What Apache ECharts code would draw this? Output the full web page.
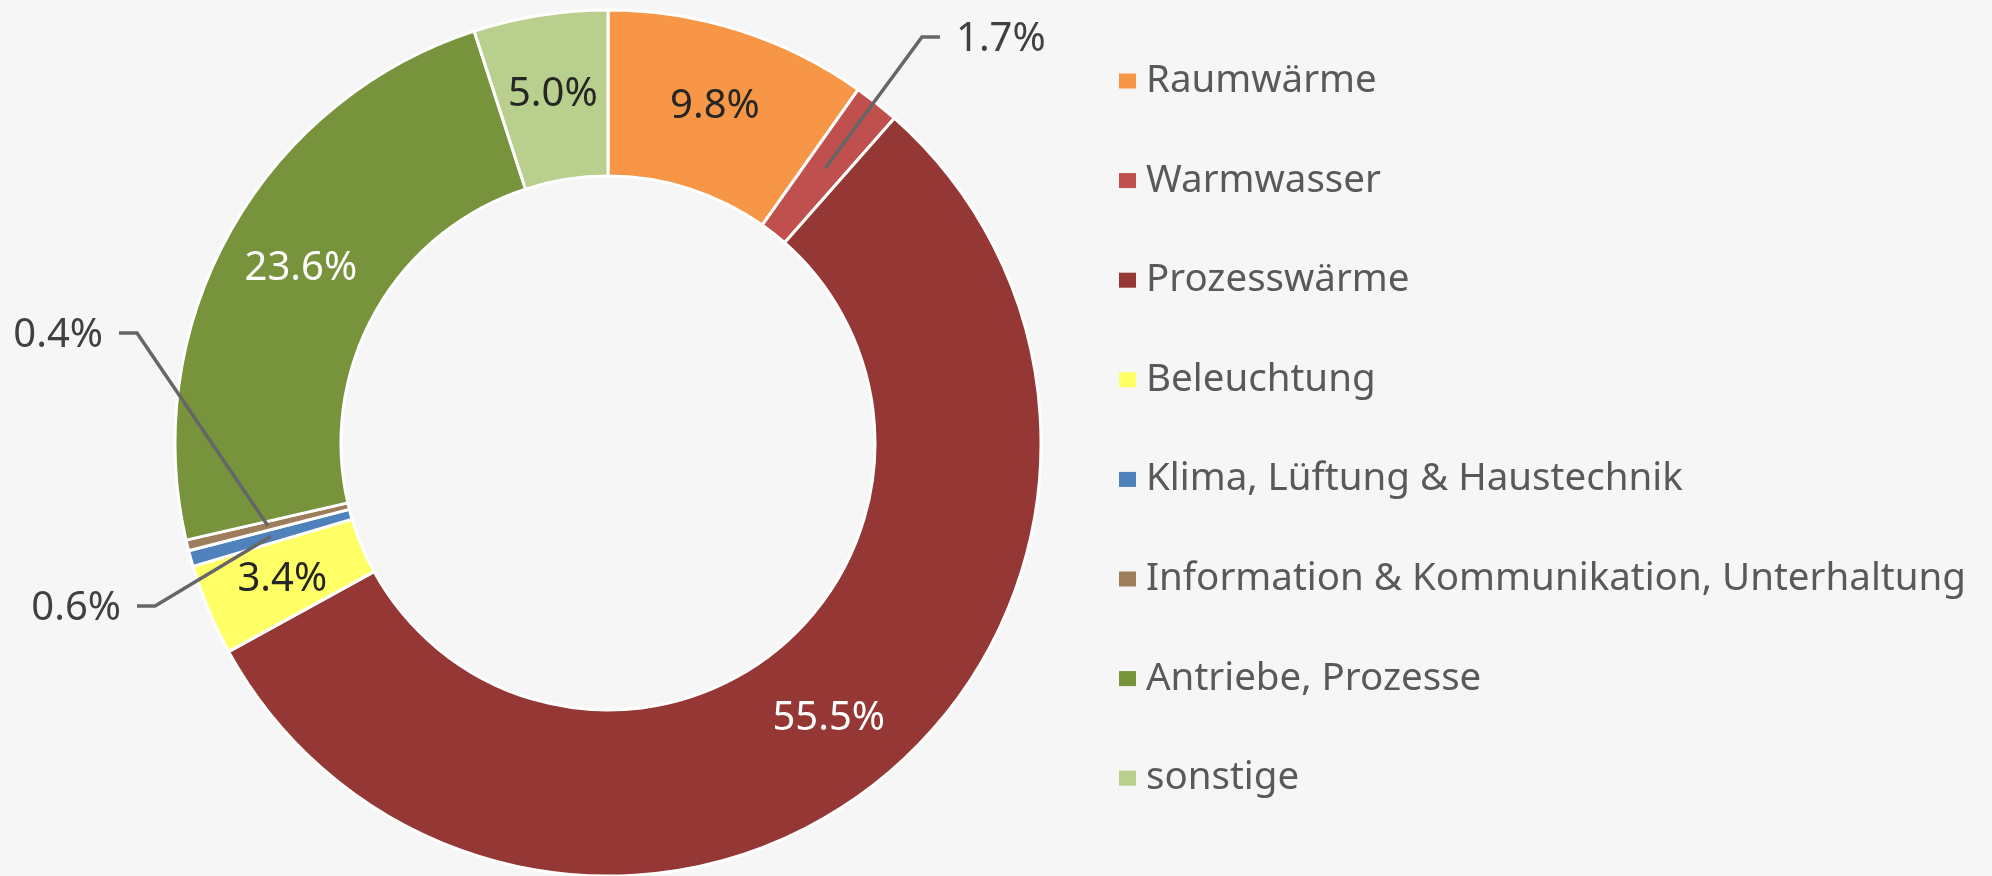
<!DOCTYPE html>
<html>
<head>
<meta charset="utf-8">
<script src="https://cdn.jsdelivr.net/npm/echarts@6/dist/echarts.min.js"></script>
<style>
  html, body { margin: 0; padding: 0; background: #f6f6f6; }
  #main { width: 1992px; height: 876px; }
</style>
</head>
<body>
<div id="main"></div>
<script>
// Kategorien (Uhrzeigersinn ab 12 Uhr)
const categories = [
  'Raumwärme',
  'Warmwasser',
  'Prozesswärme',
  'Beleuchtung',
  'Klima, Lüftung & Haustechnik',
  'Information & Kommunikation, Unterhaltung',
  'Antriebe, Prozesse',
  'sonstige'
];
// Anteile in %
const shares = [9.8, 1.7, 55.5, 3.4, 0.6, 0.4, 23.6, 5.0];
const colors = ['#F79646', '#C0504D', '#953735', '#FFFF66', '#4F81BD', '#9E7D5C', '#77933C', '#B9CF8D'];
const labelColors = ['#262626', '#404040', '#ffffff', '#262626', '#404040', '#404040', '#ffffff', '#262626'];

// Geometrie des Rings
const center = [608, 443];
const innerR = 267;
const outerR = 433;

// Labels ausserhalb: Knickpunkt der Linie, Seite
const outsideLabels = {
  'Warmwasser': { elbow: [922, 37], side: 1 },
  'Klima, Lüftung & Haustechnik': { elbow: [155, 606], side: -1 },
  'Information & Kommunikation, Unterhaltung': { elbow: [137, 333], side: -1 }
};

const chart = echarts.init(document.getElementById('main'));

// Ring
const ringData = categories.map((name, i) => ({
  name: name,
  value: shares[i],
  itemStyle: { color: colors[i] }
}));

// zweite, unsichtbare Serie nur fuer Beschriftung + Linien (liegt ueber dem Ring)
const labelData = categories.map((name, i) => {
  const outside = !!outsideLabels[name];
  return {
    name: name,
    value: shares[i],
    label: {
      position: outside ? 'outside' : 'inside',
      color: labelColors[i]
    },
    labelLine: { show: outside }
  };
});

const option = {
  backgroundColor: '#f6f6f6',
  animation: false,
  legend: {
    orient: 'vertical',
    left: 1114,
    top: 56,
    icon: 'rect',
    itemWidth: 17,
    itemHeight: 15,
    itemGap: 59.6,
    data: categories,
    itemStyle: { borderWidth: 0 },
    textStyle: {
      fontFamily: 'Noto Sans',
      fontSize: 38.5,
      lineHeight: 40,
      color: '#595959',
      padding: [0, 0, 0, 5]
    }
  },
  series: [
    {
      name: 'Anteil',
      type: 'pie',
      z: 2,
      center: center,
      radius: [innerR, outerR],
      startAngle: 90,
      clockwise: true,
      data: ringData,
      itemStyle: {
        borderColor: '#ffffff',
        borderWidth: 3
      },
      label: { show: false },
      labelLine: { show: false }
    },
    {
      name: 'Beschriftung',
      type: 'pie',
      z: 3,
      silent: true,
      legendHoverLink: false,
      center: center,
      radius: [innerR, outerR],
      startAngle: 90,
      clockwise: true,
      avoidLabelOverlap: false,
      minShowLabelAngle: 0,
      data: labelData,
      itemStyle: { color: 'rgba(0,0,0,0)', borderWidth: 0 },
      label: {
        show: true,
        formatter: (p) => p.value.toFixed(1) + '%',
        fontFamily: 'Noto Sans',
        fontSize: 40
      },
      labelLine: {
        minTurnAngle: 0,
        maxSurfaceAngle: 180,
        lineStyle: { color: '#666666', width: 3.5 }
      },
      labelLayout: function (params) {
        const cfg = outsideLabels[categories[params.dataIndex]];
        if (!cfg || !params.labelLinePoints) return {};
        // Startpunkt: Mitte des Rings auf der Mittelachse des Segments
        const p0 = params.labelLinePoints[0];
        const k = (innerR + outerR) / 2 / outerR;
        const start = [center[0] + (p0[0] - center[0]) * k, center[1] + (p0[1] - center[1]) * k];
        const end = [cfg.elbow[0] + cfg.side * 18, cfg.elbow[1]];
        return {
          x: end[0] + cfg.side * 16,
          y: end[1] + 3,
          align: cfg.side > 0 ? 'left' : 'right',
          verticalAlign: 'middle',
          labelLinePoints: [start, cfg.elbow, end]
        };
      }
    }
  ]
};

option && chart.setOption(option);
</script>
</body>
</html>
